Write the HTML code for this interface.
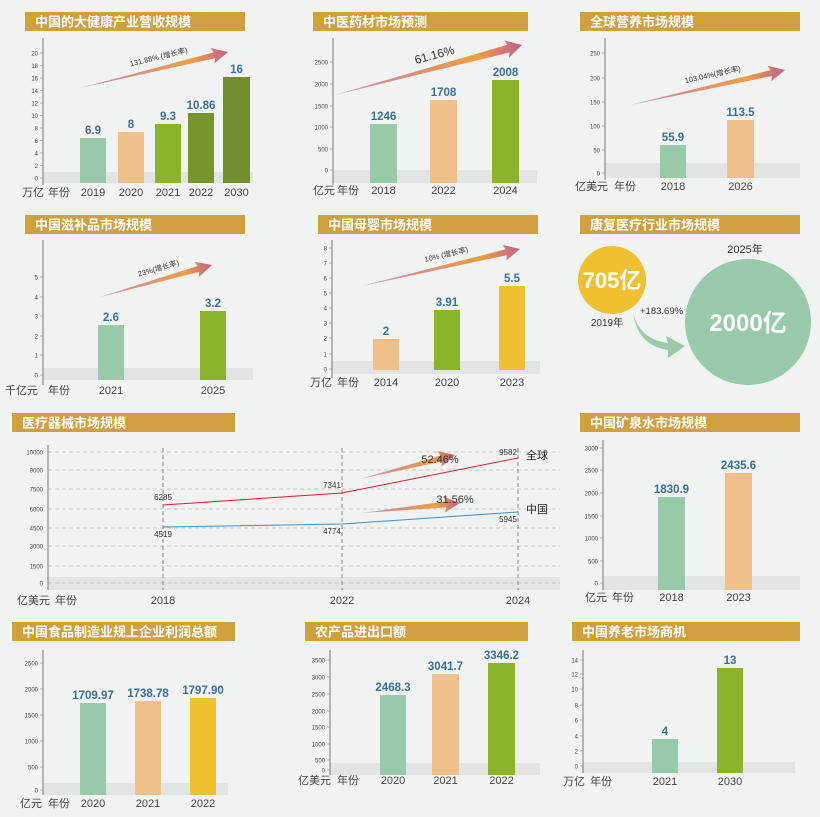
<!DOCTYPE html>
<html><head><meta charset="utf-8"><style>
html,body{margin:0;padding:0;background:#f1f2f2;}
svg{display:block;font-family:"Liberation Sans","Noto Sans CJK SC",sans-serif;}
</style></head><body>
<svg id="s" width="820" height="817" viewBox="0 0 820 817" xmlns="http://www.w3.org/2000/svg">
<defs>
<linearGradient id="ag" x1="0" y1="0" x2="1" y2="0">
<stop offset="0" stop-color="#b0508a" stop-opacity="0.6"/><stop offset="0.75" stop-color="#f0a040"/><stop offset="1" stop-color="#c06090"/>
</linearGradient>
</defs>
</svg>
<script>
var s=document.getElementById('s');var h='';
var C={g:'#98c9a8',p:'#f0c08a',l:'#8ab52a',o:'#76952e',d:'#6e8f2c',y:'#f0c030'};
function hdr(x,y,w,t){h+='<rect x="'+x+'" y="'+y+'" width="'+w+'" height="19" fill="#d0a040"/><text x="'+(x+10)+'" y="'+(y+14.5)+'" font-size="13" font-weight="bold" fill="#fff">'+t+'</text>';}
function txt(x,y,t,sz,col,anc,wt){h+='<text x="'+x+'" y="'+y+'" font-size="'+sz+'" fill="'+(col||'#333')+'" text-anchor="'+(anc||'start')+'"'+(wt?' font-weight="bold"':'')+'>'+t+'</text>';}
function axis(ax,y1,y2,ticks,bx2,by1,by2){
 h+='<rect x="'+ax+'" y="'+by1+'" width="'+(bx2-ax)+'" height="'+(by2-by1)+'" fill="#e2e3e3"/>';
 h+='<line x1="'+ax+'" y1="'+y1+'" x2="'+ax+'" y2="'+y2+'" stroke="#777" stroke-width="1"/>';
 ticks.forEach(function(t){txt(ax-5,t[1]+2.5,t[0],6,'#444','end');h+='<line x1="'+(ax-3)+'" y1="'+t[1]+'" x2="'+ax+'" y2="'+t[1]+'" stroke="#888" stroke-width="0.6"/>';});
}
function bars(list,bot,yl){list.forEach(function(b){
 h+='<rect x="'+b[0]+'" y="'+b[1]+'" width="'+b[2]+'" height="'+(bot-b[1])+'" fill="'+b[3]+'"/>';
 txt(b[0]+b[2]/2,b[1]-4,b[4],11.5,'#3a6f9a','middle',1);
 txt(b[0]+b[2]/2,yl,b[5],11,'#444','middle');});}
function arrow(x1,y1,x2,y2,w,t,sz){var dx=x2-x1,dy=y2-y1,L=Math.sqrt(dx*dx+dy*dy),a=Math.atan2(dy,dx)*180/Math.PI;
 h+='<g transform="translate('+x1+','+y1+') rotate('+a+')"><polygon points="0,0 '+(L-14)+','+(-w)+' '+(L-16)+','+(-w-5)+' '+L+',0 '+(L-16)+','+(w+5)+' '+(L-14)+','+w+'" fill="url(#ag)"/>';
 if(t)h+='<text x="'+(L*0.55)+'" y="-9" font-size="'+(sz||7.5)+'" fill="#333" text-anchor="middle">'+t+'</text>';h+='</g>';}
function lin(a,b){var r=[];for(var i=0;i<a.length;i++)r.push([a[i],b[i]]);return r;}
// P1
hdr(25,12,220,'中国的大健康产业营收规模');
axis(43,38,185,lin(['20','18','16','14','12','10','8','6','4','2','0'],[53,60,67,74,81,88,95,102,109,116,123].map(function(v,i){return 53+i*12.5;})),253,172,183);
bars([[80,138,26,C.g,'6.9','2019'],[118,132,26,C.p,'8','2020'],[155,124,26,C.l,'9.3','2021'],[188,113,26,C.o,'10.86','2022'],[223,77,27,C.d,'16','2030']],183,196);
txt(22,196,'万亿',11,'#444');txt(48,196,'年份',11,'#444');
arrow(80,88,228,52,3,'131.88% (增长率)',7.5);
// P2
hdr(313,12,215,'中医药材市场预测');
axis(333,38,185,lin(['2500','2000','1500','1000','500','0'],[62,84,106,127,149,170]),537,170,183);
bars([[370,124,27,C.g,'1246','2018'],[430,100,27,C.p,'1708','2022'],[492,80,27,C.l,'2008','2024']],183,194);
txt(313,194,'亿元',11,'#444');txt(337,194,'年份',11,'#444');
arrow(335,95,522,45,4,'61.16%',12);
// P3
hdr(580,12,220,'全球营养市场规模');
axis(605,38,180,lin(['250','200','150','100','50','0'],[53,78,102,126,150,173]),800,163,178);
bars([[660,145,26,C.g,'55.9','2018'],[727,120,27,C.p,'113.5','2026']],178,190);
txt(575,190,'亿美元',11,'#444');txt(614,190,'年份',11,'#444');
arrow(630,105,785,70,3,'103.04%(增长率)',7.5);
// P4
hdr(25,215,220,'中国滋补品市场规模');
axis(43,240,385,lin(['5','4','3','2','1','0'],[277,297,316,336,355,375]),253,368,380);
bars([[98,325,26,C.g,'2.6','2021'],[200,311,26,C.l,'3.2','2025']],380,394);
txt(5,394,'千亿元',11,'#444');txt(48,394,'年份',11,'#444');
arrow(100,297,212,265,3,'23%(增长率)',7.5);
// P5
hdr(318,215,220,'中国母婴市场规模');
axis(332,240,378,lin(['8','7','6','5','4','3','2','1','0'],[248,263,278,293,308,323,338,354,369]),540,361,374);
bars([[373,339,26,C.p,'2','2014'],[434,310,26,C.l,'3.91','2020'],[499,286,26,C.y,'5.5','2023']],370,386);
txt(310,386,'万亿',11,'#444');txt(337,386,'年份',11,'#444');
arrow(362,286,520,249,3,'10% (增长率)',7.5);
// P6
hdr(580,215,220,'康复医疗行业市场规模');
h+='<circle cx="612" cy="280" r="34" fill="#f0c030"/><circle cx="748" cy="322" r="63" fill="#98c9a8"/>';
txt(612,288,'705亿',22,'#fff','middle',1);txt(748,331,'2000亿',24,'#fff','middle',1);
txt(745,253,'2025年',11,'#333','middle');txt(607,326,'2019年',10,'#333','middle');txt(640,314,'+183.69%',9.5,'#333');
h+='<path d="M633,313 Q640,340 668,343 L666,336 L685,346 L668,358 L668,350 Q638,346 633,313 Z" fill="#98c9a8"/>';
// P7 line
hdr(12,413,223,'医疗器械市场规模');
var ys=[452,470,489,509,528,546,566,583],lb=['10000','9000','7500','6000','4500','3000','1500','0'];
h+='<rect x="48" y="577" width="512" height="13" fill="#e2e3e3"/>';
ys.forEach(function(y,i){h+='<line x1="48" y1="'+y+'" x2="560" y2="'+y+'" stroke="#bbb" stroke-dasharray="4,3" stroke-width="0.7"/>';txt(43,y+2.5,lb[i],6,'#444','end');});
[163,342,518].forEach(function(x){h+='<line x1="'+x+'" y1="448" x2="'+x+'" y2="590" stroke="#666" stroke-dasharray="4,3" stroke-width="0.8"/>';});
h+='<line x1="48" y1="445" x2="48" y2="590" stroke="#777"/>';
h+='<polyline points="163,505 342,493 518,458" fill="none" stroke="#d82030" stroke-width="1"/><polyline points="163,527 342,524 518,512" fill="none" stroke="#3a90c8" stroke-width="1"/>';
txt(163,500,'6285',8,'#333','middle');txt(332,488,'7341',8,'#333','middle');txt(508,455,'9582',8,'#333','middle');
txt(163,537,'4519',8,'#333','middle');txt(332,534,'4774',8,'#333','middle');txt(508,522,'5945',8,'#333','middle');
txt(526,459,'全球',11,'#222');txt(526,513,'中国',11,'#222');
arrow(360,479,455,455,3,'',0);txt(440,463,'52.46%',11,'#333','middle');
arrow(362,513,460,503,3,'',0);txt(455,503,'31.56%',11,'#333','middle');
txt(163,604,'2018',11,'#444','middle');txt(342,604,'2022',11,'#444','middle');txt(518,604,'2024',11,'#444','middle');
txt(17,604,'亿美元',11,'#444');txt(55,604,'年份',11,'#444');
// P8
hdr(580,413,220,'中国矿泉水市场规模');
axis(603,440,590,lin(['3000','2500','2000','1500','1000','500','0'],[448,470,493,516,538,561,583]),800,576,590);
bars([[658,497,27,C.g,'1830.9','2018'],[725,473,27,C.p,'2435.6','2023']],590,601);
txt(585,601,'亿元',11,'#444');txt(612,601,'年份',11,'#444');
// P9
hdr(12,622,223,'中国食品制造业规上企业利润总额');
axis(43,650,795,lin(['2500','2000','1500','1000','500','0'],[663,689,715,741,767,790]),228,783,795);
bars([[80,703,26,C.g,'1709.97','2020'],[135,701,26,C.p,'1738.78','2021'],[190,698,26,C.y,'1797.90','2022']],795,807);
txt(20,807,'亿元',11,'#444');txt(48,807,'年份',11,'#444');
// P10
hdr(305,622,223,'农产品进出口额');
axis(330,650,775,lin(['3500','3000','2500','2000','1500','1000','500','0'],[660,677,694,711,727,744,760,770]),540,763,775);
bars([[380,695,26,C.g,'2468.3','2020'],[432,674,27,C.p,'3041.7','2021'],[488,663,27,C.l,'3346.2','2022']],775,784);
txt(298,784,'亿美元',11,'#444');txt(337,784,'年份',11,'#444');
// P11
hdr(572,622,228,'中国养老市场商机');
axis(583,650,773,lin(['14','12','10','8','6','4','2','0'],[660,674,689,705,720,736,751,766]),795,762,773);
bars([[652,739,26,C.g,'4','2021'],[717,668,26,C.l,'13','2030']],773,785);
txt(563,785,'万亿',11,'#444');txt(590,785,'年份',11,'#444');
s.insertAdjacentHTML('beforeend',h);
</script>
</body></html>
